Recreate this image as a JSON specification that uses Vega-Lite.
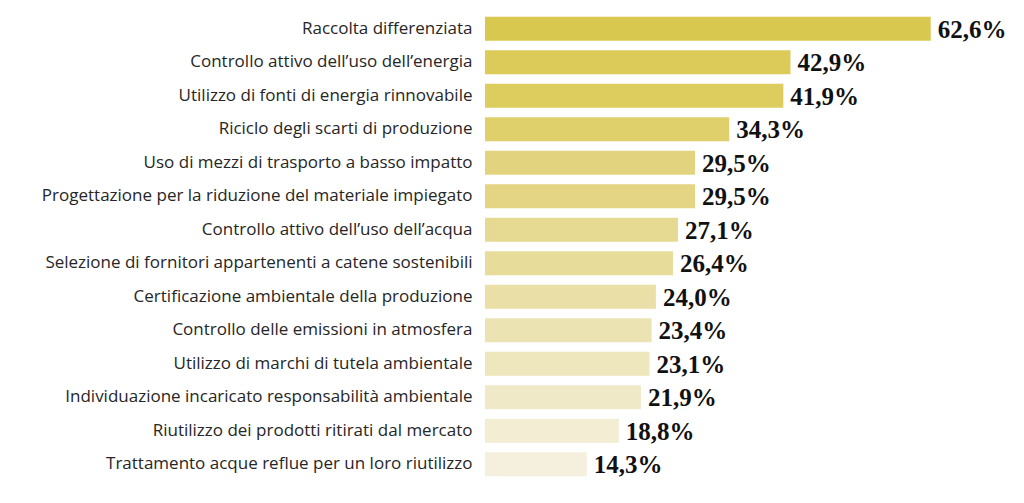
{
  "$schema": "https://vega.github.io/schema/vega-lite/v6.json",
  "autosize": {"type": "none"},
  "width": 539,
  "height": 469,
  "padding": {"left": 485, "top": 12, "right": 0, "bottom": 0},
  "background": "white",
  "config": {"view": {"stroke": null}},
  "data": {
    "values": [
      {"voce": "Raccolta differenziata", "valore": 62.6, "etichetta": "62,6%"},
      {"voce": "Controllo attivo dell’uso dell’energia", "valore": 42.9, "etichetta": "42,9%"},
      {"voce": "Utilizzo di fonti di energia rinnovabile", "valore": 41.9, "etichetta": "41,9%"},
      {"voce": "Riciclo degli scarti di produzione", "valore": 34.3, "etichetta": "34,3%"},
      {"voce": "Uso di mezzi di trasporto a basso impatto", "valore": 29.5, "etichetta": "29,5%"},
      {"voce": "Progettazione per la riduzione del materiale impiegato", "valore": 29.5, "etichetta": "29,5%"},
      {"voce": "Controllo attivo dell’uso dell’acqua", "valore": 27.1, "etichetta": "27,1%"},
      {"voce": "Selezione di fornitori appartenenti a catene sostenibili", "valore": 26.4, "etichetta": "26,4%"},
      {"voce": "Certificazione ambientale della produzione", "valore": 24.0, "etichetta": "24,0%"},
      {"voce": "Controllo delle emissioni in atmosfera", "valore": 23.4, "etichetta": "23,4%"},
      {"voce": "Utilizzo di marchi di tutela ambientale", "valore": 23.1, "etichetta": "23,1%"},
      {"voce": "Individuazione incaricato responsabilità ambientale", "valore": 21.9, "etichetta": "21,9%"},
      {"voce": "Riutilizzo dei prodotti ritirati dal mercato", "valore": 18.8, "etichetta": "18,8%"},
      {"voce": "Trattamento acque reflue per un loro riutilizzo", "valore": 14.3, "etichetta": "14,3%"}
    ]
  },
  "encoding": {
    "y": {
      "field": "voce",
      "type": "nominal",
      "sort": null,
      "scale": {"paddingInner": 0.29, "paddingOuter": 0.145},
      "axis": {
        "title": null,
        "ticks": false,
        "domain": false,
        "labelPadding": 13,
        "labelFont": "Open Sans",
        "labelFontSize": 17,
        "labelColor": "#262626",
        "labelLimit": 480
      }
    },
    "x": {
      "field": "valore",
      "type": "quantitative",
      "scale": {"domain": [0, 75.7], "nice": false},
      "axis": null
    }
  },
  "layer": [
    {
      "mark": {"type": "bar"},
      "encoding": {
        "color": {
          "field": "voce",
          "type": "nominal",
          "sort": null,
          "legend": null,
          "scale": {
            "range": ["#d9c84f", "#dccb58", "#ddcc5e", "#e0d06c", "#e2d47f", "#e3d584", "#e6da93", "#e8dc9b", "#eadfa7", "#ece3b3", "#eee6bd", "#f0e9c8", "#f2edd3", "#f5f0de"]
          }
        }
      }
    },
    {
      "mark": {
        "type": "text",
        "align": "left",
        "baseline": "middle",
        "dx": 7,
        "dy": 1,
        "font": "Liberation Serif",
        "fontWeight": "bold",
        "fontSize": 25,
        "color": "#111111"
      },
      "encoding": {"text": {"field": "etichetta"}}
    }
  ]
}
